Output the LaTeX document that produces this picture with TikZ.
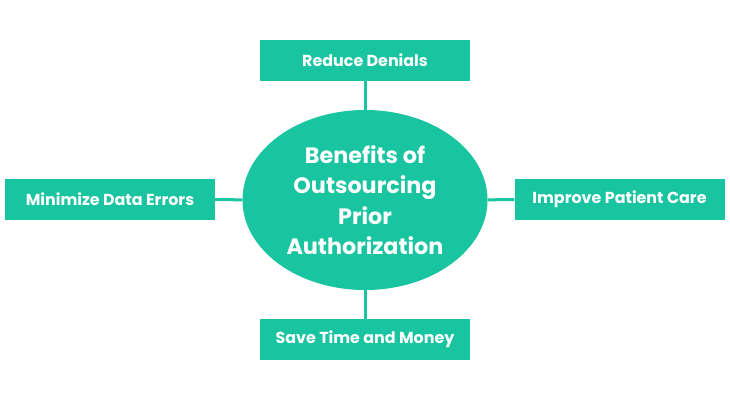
\documentclass[tikz,border=0pt]{standalone}
\usepackage{fontspec}
\setmainfont{Poppins}[BoldFont={* Bold}]
\usetikzlibrary{shapes.geometric}
\definecolor{teal1}{RGB}{25,196,160}
\begin{document}
\begin{tikzpicture}[x=1pt,y=-1pt,
  box/.style={fill=teal1,draw=none,minimum width=210pt,minimum height=41pt,inner sep=0pt,text=white,font=\bfseries\fontsize{15.9}{18}\selectfont},
  link/.style={draw=teal1,line width=3pt}]
\useasboundingbox (0,0) rectangle (730,400);
\node[ellipse,fill=teal1,minimum width=245pt,minimum height=180pt,inner sep=0pt,text=white,align=center,font=\bfseries\fontsize{22.3}{30.5}\selectfont] (c) at (365,200) {Benefits of\\Outsourcing\\Prior\\Authorization};
\node[box] (t) at (365,60.5) {Reduce Denials};
\node[box] (b) at (365,339.5) {Save Time and Money};
\node[box] (l) at (110,199.5) {Minimize Data Errors};
\node[box] (r) at (619.5,199.5) {Improve Patient Care};
\draw[link] (t) -- (c);
\draw[link] (c) -- (b);
\draw[link] (l) -- (c);
\draw[link] (c) -- (r);
\end{tikzpicture}
\end{document}
